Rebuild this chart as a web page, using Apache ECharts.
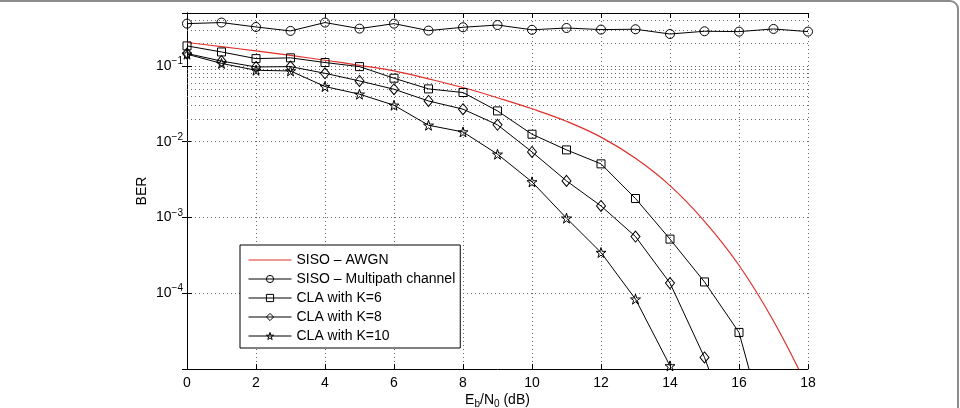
<!DOCTYPE html>
<html>
<head>
<meta charset="utf-8">
<script src="https://cdn.jsdelivr.net/npm/echarts@6/dist/echarts.min.js"></script>
<style>
  html, body { margin: 0; background: #fff; }
  #chart { width: 960px; height: 408px; }
</style>
</head>
<body>
<div id="chart"></div>
<script>
// Eb/N0 in dB
var ebn0 = [0, 1, 2, 3, 4, 5, 6, 7, 8, 9, 10, 11, 12, 13, 14, 15, 16, 17, 18];
// BER curves
var awgn = [0.204, 0.180, 0.158, 0.138, 0.119, 0.102, 0.0861, 0.0676, 0.0519, 0.038,
            0.0272, 0.0186, 0.0115, 0.00603, 0.00263, 8.9e-4, 2.34e-4, 4.3e-5, 5.6e-6];
var multipath = [0.362, 0.374, 0.327, 0.29, 0.374, 0.311, 0.362, 0.293, 0.324, 0.347,
                 0.30, 0.317, 0.302, 0.305, 0.264, 0.287, 0.284, 0.308, 0.284];
var claK6 = [0.184, 0.153, 0.125, 0.128, 0.111, 0.098, 0.0689, 0.0498, 0.0446, 0.0255,
             0.01256, 0.0078, 0.0051, 0.00178, 5.18e-4, 1.41e-4, 3.04e-5, 6.6e-7];
var claK8 = [0.146, 0.116, 0.097, 0.098, 0.080, 0.0634, 0.0493, 0.0345, 0.0269, 0.0167,
             0.00733, 0.00304, 0.00142, 5.6e-4, 1.36e-4, 1.42e-5, 8e-7];
var claK10 = [0.143, 0.108, 0.0877, 0.0859, 0.0535, 0.0424, 0.0303, 0.0165, 0.01346, 0.00684,
              0.00295, 9.8e-4, 3.45e-4, 8.36e-5, 1.1e-5];
var decades = [1e-5, 1e-4, 1e-3, 1e-2, 1e-1];
var seriesNames = ['SISO – AWGN', 'SISO – Multipath channel', 'CLA with K=6', 'CLA with K=8', 'CLA with K=10'];

function pairs(ys) {
  return ys.map(function (y, i) { return [ebn0[i], y]; });
}

// dotted minor grid of the log axis (2..9 x 10^k)
var minorLines = [];
decades.forEach(function (d) {
  for (var m = 2; m <= 9; m++) {
    if (m * d < 0.5) minorLines.push({ yAxis: m * d });
  }
});

var font = '"Liberation Sans", Arial, Helvetica, sans-serif';
var star = 'path://M50,0 L61,35 L98,35 L68,57 L79,91 L50,70 L21,91 L32,57 L2,35 L39,35 Z';
var dotted = { type: [1, 3], color: '#666', width: 1 };
var clear = 'rgba(255,255,255,0)';

function markerSeries(name, data, symbol, size) {
  return {
    name: name,
    type: 'line',
    data: pairs(data),
    symbol: symbol,
    symbolSize: size,
    showAllSymbol: true,
    lineStyle: { color: '#000', width: 1 },
    itemStyle: { color: clear, borderColor: '#000', borderWidth: 1 },
    z: 3
  };
}

var legendData = seriesNames.map(function (n, i) {
  if (i === 0) return { name: n, itemStyle: { color: clear, borderWidth: 0 } };
  return { name: n };
});

var chart = echarts.init(document.getElementById('chart'));
chart.setOption({
  animation: false,
  textStyle: { fontFamily: font },
  graphic: [{
    type: 'rect',
    shape: { x: -20, y: 1, width: 978, height: 500, r: 8 },
    style: { fill: 'none', stroke: '#8c8c8c', lineWidth: 2 },
    silent: true
  }],
  grid: { left: 187, right: 152, top: 13, bottom: 39, outerBoundsMode: 'none', containLabel: false },
  legend: {
    orient: 'vertical',
    left: 240,
    top: 245,
    data: legendData,
    itemWidth: 43,
    itemHeight: 9,
    itemGap: 5,
    padding: [8, 5, 5, 8],
    backgroundColor: '#fff',
    borderColor: '#000',
    borderWidth: 1,
    borderRadius: 0,
    itemStyle: { borderWidth: 1, color: clear },
    lineStyle: { width: 1 },
    textStyle: { fontSize: 14, lineHeight: 14, color: '#000', fontFamily: font }
  },
  xAxis: [{
    type: 'value',
    min: 0, max: 18, interval: 2,
    name: 'E{sub|b}/N{sub|0} (dB)',
    nameLocation: 'middle',
    nameGap: 22,
    nameMoveOverlap: false,
    nameTextStyle: {
      fontSize: 14, color: '#000',
      rich: { sub: { fontSize: 10, padding: [8, 0, 0, 0], color: '#000' } }
    },
    axisLine: { lineStyle: { color: '#000', width: 1 } },
    axisTick: { inside: true, length: 5, lineStyle: { color: '#000' } },
    axisLabel: { fontSize: 14, color: '#000', margin: 7 },
    splitLine: { show: true, lineStyle: dotted }
  }, {
    type: 'value', position: 'top',
    min: 0, max: 18, interval: 2,
    axisLine: { show: true, lineStyle: { color: '#000', width: 1 } },
    axisTick: { inside: true, length: 5, lineStyle: { color: '#000' } },
    axisLabel: { show: false },
    splitLine: { show: false }
  }],
  yAxis: [{
    type: 'log',
    logBase: 10,
    min: 1e-5, max: 0.5,
    name: 'BER',
    nameLocation: 'middle',
    nameGap: 38,
    nameMoveOverlap: false,
    nameTextStyle: { fontSize: 14, color: '#000' },
    axisLine: { show: true, lineStyle: { color: '#000', width: 1 } },
    axisTick: { inside: true, length: 5, lineStyle: { color: '#000' } },
    axisLabel: {
      fontSize: 14, color: '#000', margin: 4,
      showMinLabel: false, showMaxLabel: false,
      formatter: function (v) {
        var e = Math.round(Math.log10(v));
        return '10{sup|−' + (-e) + '}';
      },
      rich: { sup: { fontSize: 10, padding: [0, 0, 9, 0], color: '#000' } }
    },
    splitLine: { show: true, lineStyle: dotted }
  }, {
    type: 'log',
    logBase: 10,
    min: 1e-5, max: 0.5,
    position: 'right',
    axisLine: { show: true, lineStyle: { color: '#000', width: 1 } },
    axisTick: { inside: true, length: 5, lineStyle: { color: '#000' } },
    axisLabel: { show: false },
    splitLine: { show: false }
  }],
  series: [{
    name: seriesNames[0],
    type: 'line',
    data: pairs(awgn),
    smooth: 0.4,
    symbol: 'none',
    lineStyle: { color: '#e0302a', width: 1.2 },
    itemStyle: { color: '#e0302a' },
    z: 2,
    markLine: {
      silent: true,
      symbol: 'none',
      label: { show: false },
      lineStyle: dotted,
      data: minorLines,
      z: 1
    }
  },
    markerSeries(seriesNames[1], multipath, 'circle', 9),
    markerSeries(seriesNames[2], claK6, 'rect', 8),
    markerSeries(seriesNames[3], claK8, 'diamond', [9, 11]),
    markerSeries(seriesNames[4], claK10, star, 10)
  ]
});
</script>
</body>
</html>
